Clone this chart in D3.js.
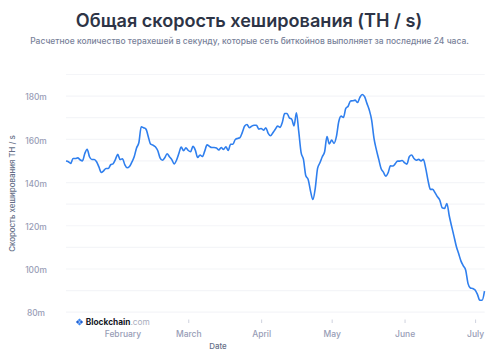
<!DOCTYPE html>
<html><head><meta charset="utf-8">
<script src="https://cdn.jsdelivr.net/npm/d3@7/dist/d3.min.js"></script>
<style>html,body{margin:0;padding:0;background:#fff;overflow:hidden}svg{display:block}text{font-family:Inter,"Noto Sans",sans-serif}</style>
</head><body><svg id="c" width="500" height="352"></svg>
<script>
const titleText = "Общая скорость хеширования (TH / s)";
const subtitleText = "Расчетное количество терахешей в секунду, которые сеть биткойнов выполняет за последние 24 часа.";
const yAxisLabel = "Скорость хеширования TH / s";
const xAxisLabel = "Date";
const firstDay = "2021-01-08";
const hashrate = [149.7,149.4,148.6,150.9,150.9,151.2,150.3,149.8,153.2,155.2,151.7,150.4,150.4,149.4,147.0,144.4,145.2,146.3,146.3,148.0,148.4,150.4,152.8,150.4,150.8,148.1,146.6,147.2,149.2,151.7,155.8,158.3,165.6,165.1,164.5,161.0,157.5,157.1,156.3,154.6,151.2,150.1,151.2,153.1,151.7,
150.4,148.4,150.1,153.2,156.2,154.5,155.8,154.6,154.0,156.5,154.8,151.4,152.5,151.8,154.3,157.2,156.5,156.0,156.0,155.8,154.8,156.0,155.1,156.3,154.6,157.5,157.5,159.7,160.2,160.6,163.0,165.9,166.6,165.1,165.9,166.3,166.3,164.5,164.8,164.0,165.1,162.5,161.4,162.8,164.4,
165.9,165.3,167.6,171.7,171.7,169.7,169.1,166.0,172.1,163.3,153.6,150.5,142.9,141.2,135.8,131.9,137.0,146.3,148.9,151.7,154.0,161.0,157.6,159.4,157.9,161.0,167.9,170.5,169.9,174.1,175.1,177.5,177.6,177.9,176.8,179.2,180.5,179.5,176.4,173.3,168.7,160.2,155.0,150.6,146.3,
144.6,142.7,144.3,147.5,147.4,148.4,149.7,149.7,150.0,148.9,148.3,151.7,152.5,150.9,150.1,150.5,149.8,150.5,146.3,140.6,136.6,136.6,135.0,133.2,131.6,128.1,127.8,130.1,124.4,119.6,115.0,110.3,106.9,103.4,101.2,99.2,93.0,91.0,90.7,90.0,88.0,85.3,85.3,89.5];
const monthTicks = ["2021-02-01","2021-03-01","2021-04-01","2021-05-01","2021-06-01","2021-07-01"];
const monthLabels = ["February","March","April","May","June","July"];
const yGridValues = [80,90,100,110,120,130,140,150,160,170,180,190];
const yTickValues = [80,100,120,140,160,180];

const svg = d3.select("#c");
const t0 = new Date(firstDay+"T00:00:00Z");
const dates = hashrate.map((_,i)=>d3.utcDay.offset(t0,i));
const x = d3.scaleUtc().domain([t0,dates[dates.length-1]]).range([66,484.5]);
const y = d3.scaleLinear().domain([80,190]).range([311.7,74]);

svg.append("text").attr("x",249).attr("y",26.5).attr("text-anchor","middle")
  .attr("font-size",18.1).attr("font-weight",600).attr("fill","#2d3446").text(titleText);
svg.append("text").attr("x",249.5).attr("y",44).attr("text-anchor","middle")
  .attr("font-size",8.48).attr("font-weight",500).attr("fill","#79829a").text(subtitleText);

// horizontal grid
svg.append("g").attr("transform","translate(66,0)")
  .call(d3.axisLeft(y).tickValues(yGridValues).tickSize(-418.7).tickFormat(""))
  .call(g=>g.select(".domain").remove())
  .call(g=>g.selectAll("line").attr("stroke","#f4f5f8").attr("stroke-width",1.2));

// y axis labels
svg.append("g").attr("transform","translate(36,0)")
  .call(d3.axisLeft(y).tickValues(yTickValues).tickSize(0).tickPadding(0).tickFormat(d=>d+"m"))
  .call(g=>g.select(".domain").remove())
  .call(g=>g.selectAll("text").attr("text-anchor","middle").attr("x",0).attr("dy","0.5em")
    .attr("font-size",8.4).attr("font-weight",500).attr("fill","#989db6").style("font-family","Inter"));

// x axis
const monthDates = monthTicks.map(d=>new Date(d+"T00:00:00Z"));
svg.append("g").attr("transform","translate(0,319.5)")
  .call(d3.axisBottom(x).tickValues(monthDates).tickSize(3.5).tickPadding(8)
    .tickFormat((d,i)=>monthLabels[i]))
  .call(g=>g.select(".domain").remove())
  .call(g=>g.selectAll("line").attr("stroke","#cfd2de"))
  .call(g=>g.selectAll("text").attr("font-size",8.5).attr("font-weight",500).attr("fill","#989db6").style("font-family","Inter"));

svg.append("text").attr("x",218).attr("y",348.5).attr("text-anchor","middle")
  .attr("font-size",7.9).attr("font-weight",500).attr("fill","#666f88").text(xAxisLabel);
svg.append("text").attr("transform","translate(15,193.5) rotate(-90)").attr("text-anchor","middle")
  .attr("font-size",7.9).attr("font-weight",500).attr("fill","#666f88").text(yAxisLabel);

// series
svg.append("path").datum(hashrate)
  .attr("fill","none").attr("stroke","#2f7fee").attr("stroke-width",1.6).attr("stroke-linejoin","round")
  .attr("d",d3.line().x((d,i)=>x(dates[i])).y(d=>y(d)).curve(d3.curveMonotoneX));

// watermark logo
const logo = svg.append("g").attr("transform","translate(79.5,322)");
logo.append("rect").attr("x",-4).attr("y",-6).attr("width",70).attr("height",11).attr("fill","#fff");
[[0,-1.9,"#3d89f5"],[-1.9,0,"#1f5fd0"],[1.9,0,"#1f5fd0"],[0,1.9,"#3d89f5"]].forEach(([dx,dy,c])=>{
  logo.append("path").attr("d","M0,-1.7L1.7,0L0,1.7L-1.7,0Z").attr("transform",`translate(${dx},${dy})`).attr("fill",c);
});
const brand = logo.append("text").attr("x",6.3).attr("y",3).attr("font-size",8.3).attr("font-weight",700).attr("fill","#15181f");
brand.append("tspan").text("Blockchain");
brand.append("tspan").attr("font-weight",400).attr("fill","#a9adbd").text(".com");
</script></body></html>
